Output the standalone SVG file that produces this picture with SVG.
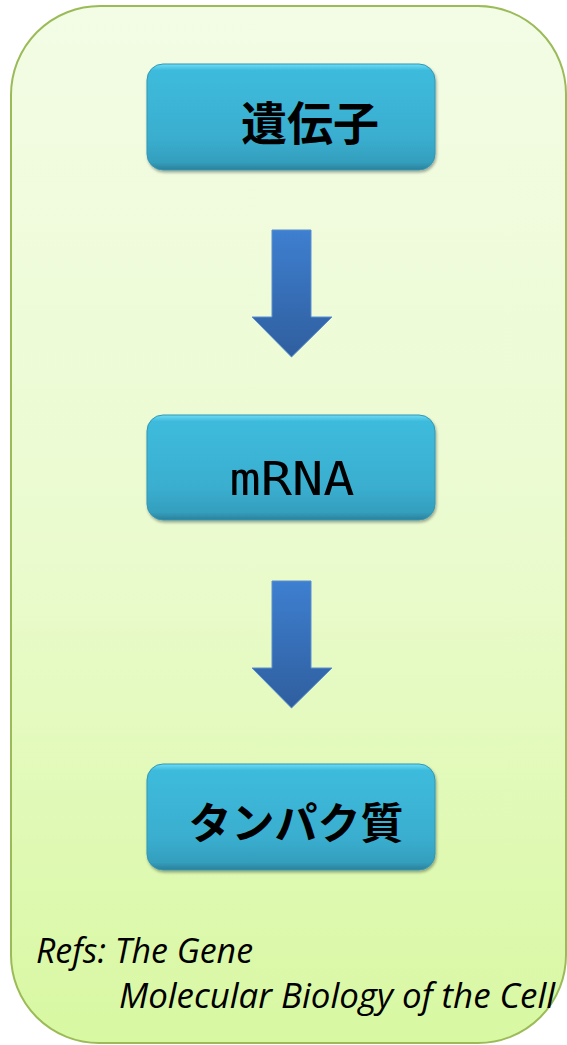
<svg xmlns="http://www.w3.org/2000/svg" width="567" height="1045" viewBox="0 0 567 1045">
  <defs>
    <linearGradient id="panelFill" x1="0" y1="0" x2="0" y2="1">
      <stop offset="0" stop-color="#f3fce5"/>
      <stop offset="0.5" stop-color="#ebfbd0"/>
      <stop offset="1" stop-color="#d8f8a2"/>
    </linearGradient>
    <linearGradient id="boxFill" x1="0" y1="0" x2="0" y2="1">
      <stop offset="0" stop-color="#6edcf6"/>
      <stop offset="0.06" stop-color="#3dbbdc"/>
      <stop offset="0.7" stop-color="#3aaecf"/>
      <stop offset="0.93" stop-color="#349ebd"/>
      <stop offset="1" stop-color="#2b7f98"/>
    </linearGradient>
    <linearGradient id="arrowFill" x1="0" y1="0" x2="0" y2="1">
      <stop offset="0" stop-color="#3e7fd0"/>
      <stop offset="1" stop-color="#2f5e9e"/>
    </linearGradient>
    <filter id="soft" x="-10%" y="-10%" width="120%" height="130%">
      <feGaussianBlur in="SourceAlpha" stdDeviation="1.5"/>
      <feOffset dx="1" dy="2" result="b"/>
      <feComponentTransfer><feFuncA type="linear" slope="0.35"/></feComponentTransfer>
      <feMerge><feMergeNode/><feMergeNode in="SourceGraphic"/></feMerge>
    </filter>
    <path id="downArrow" d="M0,0 H39 V87 H60 L19.5,127 L-20,87 H0 Z"/>
  </defs>
  <style>
    .panel { fill: url(#panelFill); stroke: #9bbb59; stroke-width: 2; }
    .box { fill: url(#boxFill); stroke: #3298b4; stroke-width: 1; filter: url(#soft); }
    .arrow { fill: url(#arrowFill); stroke: #5b8fd2; stroke-width: 1; }
    .jp { font-family: "Noto Sans CJK JP", "Noto Sans", sans-serif; font-weight: bold; fill: #000; text-anchor: middle; }
    .mono { font-family: "DejaVu Sans Mono", "Liberation Mono", monospace; fill: #000; text-anchor: middle; }
    .ref { font-family: "Open Sans", "Liberation Sans", sans-serif; font-style: italic; font-size: 34px; fill: #000; }
  </style>

  <!-- background panel -->
  <path class="panel" d="M100,6 H478 A88,88 0 0 1 566,94 V955 A88,88 0 0 1 478,1043 H99 A88,88 0 0 1 11,955 V95 A89,89 0 0 1 100,6 Z"/>

  <g id="connectors">
    <use href="#downArrow" class="arrow" x="272" y="230"/>
    <use href="#downArrow" class="arrow" x="272" y="581"/>
  </g>

  <g id="gene">
    <rect class="box" x="147" y="64" width="288" height="106" rx="16"/>
    <text class="jp" x="310" y="140" font-size="46">遺伝子</text>
  </g>

  <g id="mrna">
    <rect class="box" x="147" y="415" width="288" height="105" rx="16"/>
    <text class="mono" x="292" y="495" font-size="47" textLength="125" lengthAdjust="spacingAndGlyphs">mRNA</text>
  </g>

  <g id="protein">
    <rect class="box" x="147" y="764" width="288" height="106" rx="16"/>
    <text class="jp" x="296" y="839" font-size="43">タンパク質</text>
  </g>

  <g id="refs">
    <text class="ref" x="36" y="963" textLength="217" lengthAdjust="spacingAndGlyphs">Refs: The Gene</text>
    <text class="ref" x="119" y="1008" textLength="436" lengthAdjust="spacingAndGlyphs">Molecular Biology of the Cell</text>
  </g>
</svg>
